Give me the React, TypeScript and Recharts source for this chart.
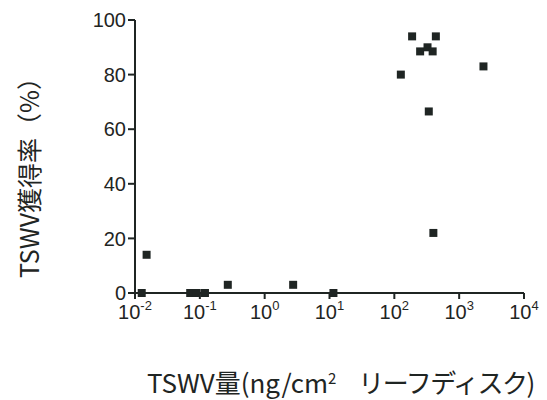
import { Label, Scatter, ScatterChart, XAxis, YAxis, ZAxis } from 'recharts';

// TSWV amount (ng/cm2 leaf disc) vs acquisition rate (%)
const tswvAmount = [
  0.0127, 0.0151, 0.071, 0.0895, 0.12, 0.27, 2.75, 11.5, 400, 188, 437, 250, 325, 390, 126, 340, 2370,
];
const acquisitionRate = [0, 14, 0, 0, 0, 3, 3, 0, 22, 94, 94, 88.5, 90, 88.5, 80, 66.5, 83];

const xTicks = [0.01, 0.1, 1, 10, 100, 1000, 10000];
const xExponents = ['-2', '-1', '0', '1', '2', '3', '4'];
const yTicks = [0, 20, 40, 60, 80, 100];

const points = tswvAmount.map((x, i) => ({ x, y: acquisitionRate[i] }));

const INK = '#1f2523';
const FONT = '"Liberation Sans", Arial, Helvetica, sans-serif';
const JP_FONT = '"Noto Sans CJK JP", "Liberation Sans", sans-serif';

function PowerTick(props: any) {
  const { x, y, payload } = props;
  const idx = xTicks.indexOf(payload.value);
  const exp = xExponents[idx] ?? '';
  return (
    <text x={x} y={y} dy={18} textAnchor="middle" fill={INK} fontFamily={FONT} fontSize={20}>
      <tspan>10</tspan>
      <tspan dy={-9} fontSize={13}>
        {exp}
      </tspan>
    </text>
  );
}

export default function App() {
  return (
    <div style={{ position: 'absolute', left: 0, top: 0, width: 547, height: 400, background: '#fff' }}>
      <ScatterChart width={547} height={400} margin={{ top: 20, right: 23, bottom: 7, left: 75 }}>
        <XAxis
          type="number"
          dataKey="x"
          scale="log"
          domain={[0.01, 10000]}
          ticks={xTicks}
          allowDataOverflow
          height={100}
          stroke={INK}
          strokeWidth={2}
          tickSize={6}
          tick={<PowerTick />}
        >
          <Label
            content={(p: any) => {
              const vb = p.viewBox;
              return (
                <text
                  x={vb.x + 12}
                  y={vb.y + 100}
                  textAnchor="start"
                  fill={INK}
                  fontFamily={JP_FONT}
                  fontSize={26}
                >
                  TSWV量(ng/cm<tspan dy={-9} fontSize={15}>2</tspan>
                  <tspan dy={9} dx={22} letterSpacing={-1.5}>リーフディスク</tspan>
                  <tspan>)</tspan>
                </text>
              );
            }}
          />
        </XAxis>
        <YAxis
          type="number"
          dataKey="y"
          domain={[0, 100]}
          ticks={yTicks}
          width={60}
          stroke={INK}
          strokeWidth={2}
          tickSize={7}
          tickMargin={2}
          tick={{ fill: INK, fontFamily: FONT, fontSize: 20 }}
        >
          <Label
            content={(p: any) => {
              const vb = p.viewBox;
              const cx = 39;
              const cy = vb.y + vb.height / 2 + 15;
              return (
                <text
                  x={cx}
                  y={cy}
                  transform={`rotate(-90, ${cx}, ${cy})`}
                  textAnchor="middle"
                  fill={INK}
                  fontFamily={JP_FONT}
                  fontSize={25}
                >
                  TSWV獲得率（%）
                </text>
              );
            }}
          />
        </YAxis>
        <ZAxis range={[100, 100]} />
        <Scatter data={points} shape="square" fill={INK} isAnimationActive={false} />
      </ScatterChart>
    </div>
  );
}
